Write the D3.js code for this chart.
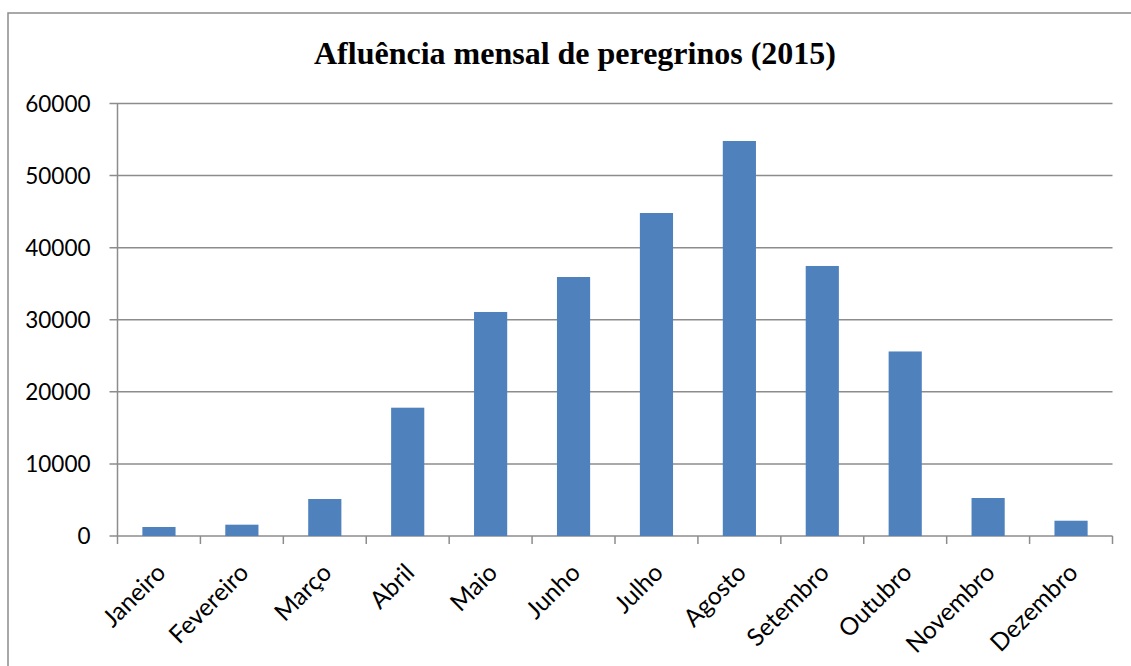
<!DOCTYPE html>
<html>
<head>
<meta charset="utf-8">
<script src="https://cdn.jsdelivr.net/npm/d3@7"></script>
<style>
  body { margin: 0; background: #fff; }
  svg { display: block; }
</style>
</head>
<body>
<div id="chart"></div>
<script>
var meses = ["Janeiro", "Fevereiro", "Março", "Abril", "Maio", "Junho",
             "Julho", "Agosto", "Setembro", "Outubro", "Novembro", "Dezembro"];
var peregrinos = [1250, 1570, 5130, 17800, 31080, 35930, 44810, 54800, 37460, 25600, 5270, 2120];
var yTicks = [0, 10000, 20000, 30000, 40000, 50000, 60000];
var titulo = "Afluência mensal de peregrinos (2015)";

var width = 1131, height = 666;
var margin = {top: 103.5, right: 18.5, bottom: 130, left: 117.5};
var gray = "#8c8c8c";

var svg = d3.select("#chart").append("svg")
    .attr("width", width)
    .attr("height", height);

// outer chart frame
svg.append("rect")
    .attr("x", 8).attr("y", 13)
    .attr("width", 1140).attr("height", 700)
    .attr("fill", "none")
    .attr("stroke", gray)
    .attr("stroke-width", 1.5);

svg.append("text")
    .attr("x", 575)
    .attr("y", 64)
    .attr("text-anchor", "middle")
    .style("font-family", "'Liberation Serif', 'Times New Roman', serif")
    .style("font-weight", "bold")
    .style("font-size", "32px")
    .text(titulo);

var x = d3.scaleBand()
    .domain(meses)
    .range([margin.left, width - margin.right])
    .paddingInner(0.6)
    .paddingOuter(0.3);

var y = d3.scaleLinear()
    .domain([0, 60000])
    .range([height - margin.bottom, margin.top]);

// gridlines
svg.append("g")
    .selectAll("line")
    .data(yTicks)
    .enter()
    .append("line")
    .attr("x1", margin.left - 8)
    .attr("x2", width - margin.right)
    .attr("y1", function(d){ return y(d); })
    .attr("y2", function(d){ return y(d); })
    .attr("stroke", gray)
    .attr("stroke-width", 1.5);

// y axis line
svg.append("line")
    .attr("x1", margin.left).attr("x2", margin.left)
    .attr("y1", y(60000)).attr("y2", y(0))
    .attr("stroke", gray)
    .attr("stroke-width", 1.5);

// y labels
svg.append("g")
    .selectAll("text")
    .data(yTicks)
    .enter()
    .append("text")
    .attr("x", margin.left - 27)
    .attr("y", function(d){ return y(d); })
    .attr("dy", "0.36em")
    .attr("text-anchor", "end")
    .style("font-family", "Lato, 'Open Sans', sans-serif")
    .style("font-size", "22.5px")
    .text(function(d){ return d; });

// x tick marks at category boundaries
var step = x.step();
var bounds = d3.range(meses.length + 1).map(function(i){ return margin.left + i * step; });
svg.append("g")
    .selectAll("line")
    .data(bounds)
    .enter()
    .append("line")
    .attr("x1", function(d){ return d; })
    .attr("x2", function(d){ return d; })
    .attr("y1", y(0))
    .attr("y2", y(0) + 8)
    .attr("stroke", gray)
    .attr("stroke-width", 1.5);

// bars
svg.append("g")
    .selectAll("rect")
    .data(peregrinos)
    .enter()
    .append("rect")
    .attr("x", function(d, i){ return x(meses[i]); })
    .attr("y", function(d){ return y(d); })
    .attr("width", x.bandwidth())
    .attr("height", function(d){ return y(0) - y(d); })
    .attr("fill", "#4f81bd");

// x labels, rotated
svg.append("g")
    .selectAll("text")
    .data(meses)
    .enter()
    .append("text")
    .attr("transform", function(d){
        var cx = x(d) + x.bandwidth() / 2 + 2;
        return "translate(" + cx + "," + (y(0) + 32) + ") rotate(-45)";
    })
    .attr("text-anchor", "end")
    .attr("dy", "0.36em")
    .style("font-family", "Lato, 'Open Sans', sans-serif")
    .style("font-size", "24.5px")
    .text(function(d){ return d; });
</script>
</body>
</html>
